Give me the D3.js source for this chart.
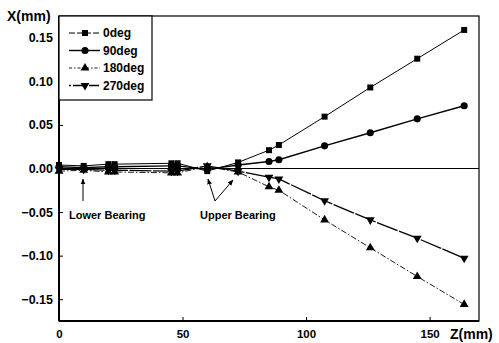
<!DOCTYPE html>
<html><head><meta charset="utf-8">
<script src="https://cdn.jsdelivr.net/npm/d3@7"></script>
<style>body{margin:0;background:#fff}svg text{font-family:"Liberation Sans",Arial,sans-serif;fill:#000}</style>
</head><body><svg id="c" width="499" height="343"></svg>
<script>
const zValues = [0, 10, 20, 22.5, 45.5, 48, 60, 72.5, 85, 89, 107.5, 126, 145, 164];
const seriesNames = ["0deg", "90deg", "180deg", "270deg"];
const deg0   = [0.004, 0.003, 0.005, 0.005, 0.006, 0.006, -0.003, 0.007, 0.021, 0.027, 0.0595, 0.093, 0.126, 0.159];
const deg90  = [0.002, 0.001, 0.002, 0.002, 0.003, 0.003, -0.001, 0.004, 0.008, 0.010, 0.026, 0.041, 0.057, 0.072];
const deg180 = [-0.003, -0.002, -0.004, -0.004, -0.005, -0.005, 0.002, -0.004, -0.021, -0.025, -0.059, -0.091, -0.124, -0.156];
const deg270 = [-0.001, -0.001, -0.002, -0.002, -0.003, -0.003, 0.003, -0.003, -0.010, -0.012, -0.037, -0.059, -0.080, -0.103];
const xTicks = [0, 50, 100, 150];
const yTicks = [-0.15, -0.10, -0.05, 0.00, 0.05, 0.10, 0.15];

const svg = d3.select("#c");
const L = 59, R = 479, T = 16, B = 321;
const x = d3.scaleLinear().domain([0, 170]).range([L, R]);
const y = d3.scaleLinear().domain([-0.175, 0.175]).range([B, T]);

// frame
svg.append("rect").attr("x", L).attr("y", T).attr("width", R - L).attr("height", B - T)
  .attr("fill", "none").attr("stroke", "#000").attr("stroke-width", 1.2);
svg.append("line").attr("x1", L).attr("x2", L).attr("y1", T).attr("y2", B).attr("stroke", "#000").attr("stroke-width", 2);
svg.append("line").attr("x1", L).attr("x2", R).attr("y1", B).attr("y2", B).attr("stroke", "#000").attr("stroke-width", 2);
// zero line
svg.append("line").attr("x1", L).attr("x2", R).attr("y1", y(0)).attr("y2", y(0)).attr("stroke", "#000").attr("stroke-width", 1);

// axes
const ax = svg.append("g").attr("transform", `translate(0,${B})`)
  .call(d3.axisBottom(x).tickValues(xTicks).tickSize(-4).tickPadding(9).tickFormat(d3.format("d")));
ax.select(".domain").remove();
ax.selectAll("text").attr("font-size", 11.5).attr("font-weight", "bold");
const ay = svg.append("g").attr("transform", `translate(${L},0)`)
  .call(d3.axisLeft(y).tickValues(yTicks).tickSize(-4).tickPadding(6).tickFormat(d3.format(".2f")));
ay.select(".domain").remove();
ay.selectAll("text").attr("font-size", 12.5).attr("font-weight", "bold");

svg.append("text").attr("x", 7).attr("y", 21).attr("font-size", 14).attr("font-weight", "bold").text("X(mm)");
svg.append("text").attr("x", 450).attr("y", 339).attr("font-size", 14).attr("font-weight", "bold").text("Z(mm)");

const series = [
  {name: seriesNames[0], vals: deg0,   dash: null, w: 1, shape: d3.symbolSquare, size: 36, rot: 0},
  {name: seriesNames[1], vals: deg90,  dash: null,  w: 1.4, shape: d3.symbolCircle, size: 40, rot: 0},
  {name: seriesNames[2], vals: deg180, dash: "6,2,1.5,2", w: 0.9, shape: d3.symbolTriangle, size: 34, rot: 0},
  {name: seriesNames[3], vals: deg270, dash: "22,1.5", w: 1.3, shape: d3.symbolTriangle, size: 34, rot: 180}
];
const legendDash = ["6,2", null, "3,2,1.5,2", "2,2,10,2"];

const line = d3.line().x((d, i) => x(zValues[i])).y(d => y(d));
series.forEach(s => {
  svg.append("path").attr("d", line(s.vals)).attr("fill", "none").attr("stroke", "#000")
    .attr("stroke-width", s.w).attr("stroke-dasharray", s.dash);
  svg.append("g").selectAll("path").data(s.vals).join("path")
    .attr("d", d3.symbol().type(s.shape).size(s.size))
    .attr("transform", (d, i) => `translate(${x(zValues[i])},${y(d)}) rotate(${s.rot})`)
    .attr("fill", "#000");
});

// legend
const lg = svg.append("g");
lg.append("rect").attr("x", L).attr("y", T).attr("width", 93).attr("height", 84)
  .attr("fill", "#fff").attr("stroke", "#000").attr("stroke-width", 1.2);
series.forEach((s, i) => {
  const yy = 33 + i * 17.5;
  lg.append("line").attr("x1", 69).attr("x2", 100).attr("y1", yy).attr("y2", yy)
    .attr("stroke", "#000").attr("stroke-width", s.w).attr("stroke-dasharray", legendDash[i]);
  lg.append("path").attr("d", d3.symbol().type(s.shape).size(s.size))
    .attr("transform", `translate(85,${yy}) rotate(${s.rot})`).attr("fill", "#000");
  lg.append("text").attr("x", 103).attr("y", yy + 4).attr("font-size", 12).attr("font-weight", "bold").text(s.name);
});

// annotations
const defs = svg.append("defs");
defs.append("marker").attr("id", "ah").attr("viewBox", "0 0 10 10").attr("refX", 9).attr("refY", 5)
  .attr("markerWidth", 6).attr("markerHeight", 6).attr("orient", "auto")
  .append("path").attr("d", "M0,1 L10,5 L0,9 Z").attr("fill", "#000");
const ann = svg.append("g");
ann.append("line").attr("x1", 83).attr("y1", 201).attr("x2", 83).attr("y2", 179)
  .attr("stroke", "#000").attr("stroke-width", 1).attr("marker-end", "url(#ah)");
ann.append("text").attr("x", 69).attr("y", 219).attr("font-size", 11).attr("font-weight", "bold").text("Lower Bearing");
ann.append("line").attr("x1", 215).attr("y1", 201).attr("x2", 208).attr("y2", 179)
  .attr("stroke", "#000").attr("stroke-width", 1).attr("marker-end", "url(#ah)");
ann.append("line").attr("x1", 215).attr("y1", 201).attr("x2", 233).attr("y2", 180)
  .attr("stroke", "#000").attr("stroke-width", 1).attr("marker-end", "url(#ah)");
ann.append("text").attr("x", 200).attr("y", 219).attr("font-size", 11).attr("font-weight", "bold").text("Upper Bearing");
</script></body></html>
